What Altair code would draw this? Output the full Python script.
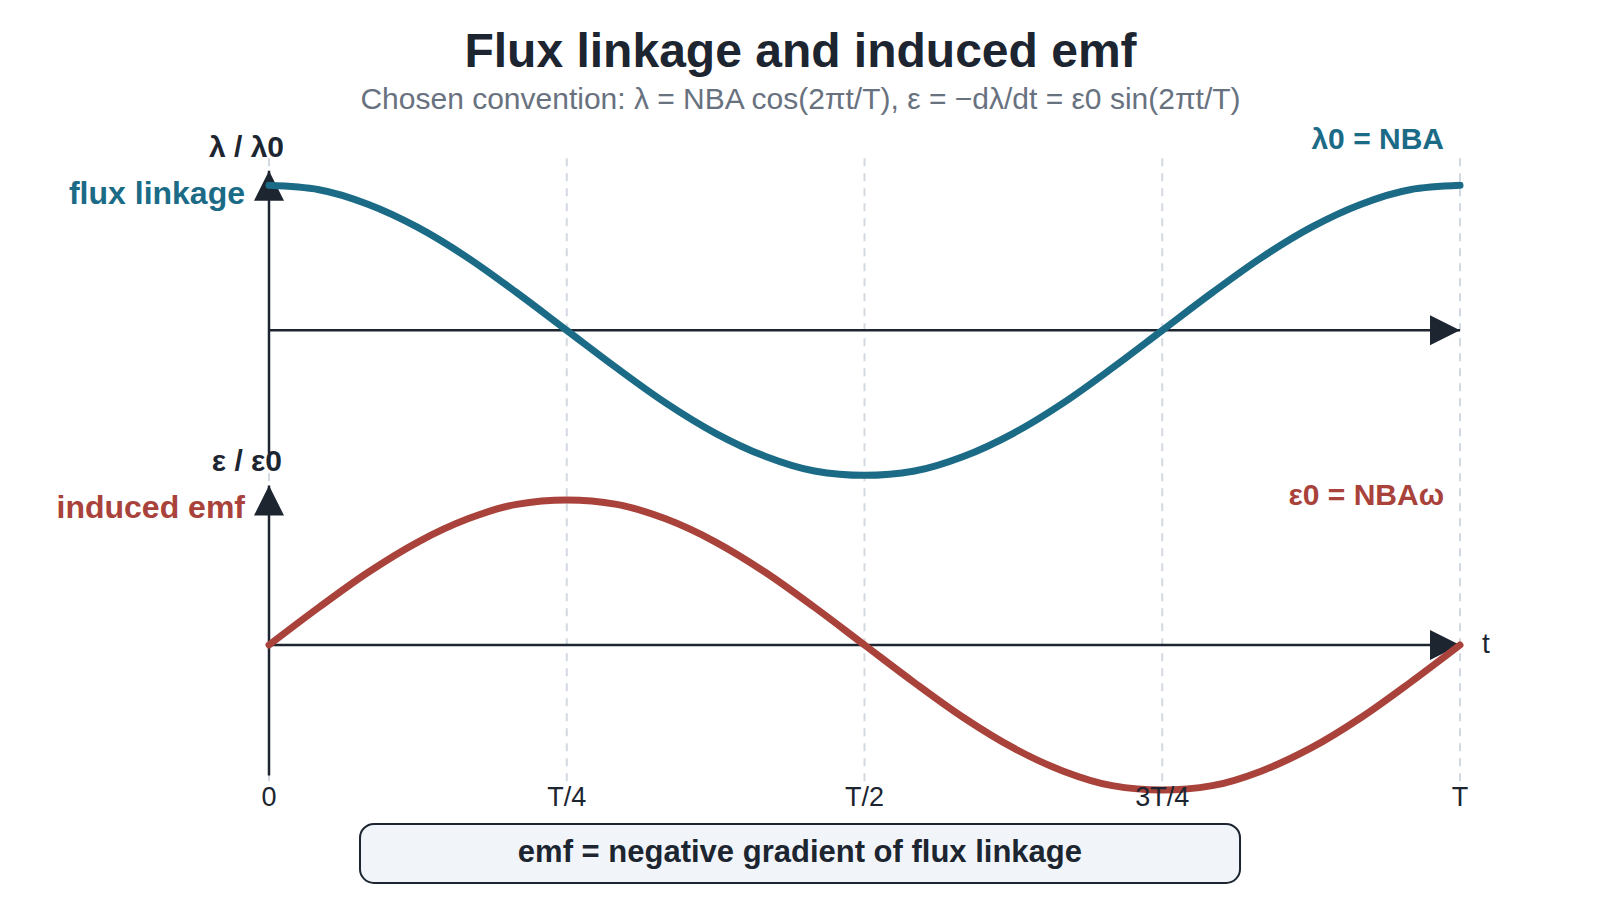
import altair as alt
import pandas as pd

# time as a fraction of the period T
t_frac = [0.000, 0.042, 0.083, 0.125, 0.167, 0.208, 0.250, 0.292, 0.333, 0.375,
          0.417, 0.458, 0.500, 0.542, 0.583, 0.625, 0.667, 0.708, 0.750, 0.792,
          0.833, 0.875, 0.917, 0.958, 1.000]
# lambda / lambda0
flux = [1.00, 0.97, 0.87, 0.71, 0.50, 0.26, 0.00, -0.26, -0.50, -0.71,
        -0.87, -0.97, -1.00, -0.97, -0.87, -0.71, -0.50, -0.26, 0.00, 0.26,
        0.50, 0.71, 0.87, 0.97, 1.00]
# epsilon / epsilon0
emf = [0.00, 0.26, 0.50, 0.71, 0.87, 0.97, 1.00, 0.97, 0.87, 0.71,
       0.50, 0.26, 0.00, -0.26, -0.50, -0.71, -0.87, -0.97, -1.00, -0.97,
       -0.87, -0.71, -0.50, -0.26, 0.00]

tick_pos = [0, 0.25, 0.5, 0.75, 1]
tick_text = ["0", "T/4", "T/2", "3T/4", "T"]

TEAL = "#1b6b87"
RED = "#a8423a"
DARK = "#1c2530"
FONT = "Liberation Sans"
SHIFT = 2.17  # vertical offset of the flux panel

xs = alt.Scale(domain=[0, 1], nice=False, zero=False)
ys = alt.Scale(domain=[-1.0, 3.4], nice=False, zero=False)


def X(field="t"):
    return alt.X(f"{field}:Q", scale=xs, axis=None)


def Y(field="y"):
    return alt.Y(f"{field}:Q", scale=ys, axis=None)


curves = pd.DataFrame({"t": t_frac, "flux": flux, "emf": emf})

# dashed guides at the quarter periods
grid = alt.Chart(pd.DataFrame({"t": tick_pos, "y": [-0.94] * 5, "y2": [3.36] * 5})).mark_rule(
    color="#d3d9e1", strokeWidth=2, strokeDash=[8, 7]
).encode(x=X(), y=Y(), y2="y2:Q")

# hand drawn axes
axes_df = pd.DataFrame({
    "t": [0, 0, 0, 0],
    "t2": [0, 1, 0, 1],
    "y": [SHIFT - 0.85, SHIFT, -0.9, 0],
    "y2": [SHIFT + 1.1, SHIFT, 1.1, 0],
})
axes = alt.Chart(axes_df).mark_rule(color=DARK, strokeWidth=2.5).encode(
    x=X(), x2="t2:Q", y=Y(), y2="y2:Q"
)

up = alt.Chart(pd.DataFrame({"t": [0, 0], "y": [SHIFT + 1.1, 1.1]})).mark_point(
    shape="M0,0L-1,2L1,2Z", size=900, filled=True, opacity=1, color=DARK
).encode(x=X(), y=Y())
right = alt.Chart(pd.DataFrame({"t": [1, 1], "y": [SHIFT, 0]})).mark_point(
    shape="M0,0L-2,-1L-2,1Z", size=900, filled=True, opacity=1, color=DARK
).encode(x=X(), y=Y())

flux_line = alt.Chart(curves).transform_calculate(
    y=f"datum.flux + {SHIFT}"
).mark_line(color=TEAL, strokeWidth=7, strokeCap="round", interpolate="monotone").encode(
    x=X(), y=Y()
)
emf_line = alt.Chart(curves).mark_line(
    color=RED, strokeWidth=7, strokeCap="round", interpolate="monotone"
).encode(x=X(), y=Y("emf"))

ticks = alt.Chart(pd.DataFrame({"t": tick_pos, "y": [-1.055] * 5, "label": tick_text})).mark_text(
    font=FONT, fontSize=27, color=DARK, baseline="middle"
).encode(x=X(), y=Y(), text="label:N")


def label(text, t, y, color, size, align, dx=0, weight="bold"):
    return alt.Chart(pd.DataFrame({"t": [t], "y": [y], "label": [text]})).mark_text(
        font=FONT, fontSize=size, fontWeight=weight, color=color, align=align,
        baseline="middle", dx=dx
    ).encode(x=X(), y=Y(), text="label:N")


labels = [
    label("λ / λ0", 0, SHIFT + 1.26, DARK, 30, "right", dx=15),
    label("flux linkage", 0, SHIFT + 0.94, TEAL, 32, "right", dx=-24),
    label("ε / ε0", 0, 1.262, DARK, 30, "right", dx=13),
    label("induced emf", 0, 0.945, RED, 32, "right", dx=-24),
    label("λ0 = NBA", 1, SHIFT + 1.315, TEAL, 30, "right", dx=-16),
    label("ε0 = NBAω", 1, 1.03, RED, 30, "right", dx=-16),
    label("t", 1, 0, DARK, 28, "left", dx=22, weight="normal"),
]

# note box under the axis
box = alt.Chart(pd.DataFrame({"t": [0.0764], "t2": [0.8153], "y": [-1.234], "y2": [-1.641]})).mark_rect(
    fill="#f1f5f9", stroke=DARK, strokeWidth=2, cornerRadius=14
).encode(x=X(), x2="t2:Q", y=Y(), y2="y2:Q")
box_text = label("emf = negative gradient of flux linkage", 0.4458, -1.434, DARK, 31, "center")

chart = alt.layer(
    grid, axes, up, right, flux_line, emf_line, ticks, *labels, box, box_text
).properties(
    width=1191,
    height=638,
    autosize="none",
    padding={"left": 261, "top": 144, "right": 132, "bottom": 102},
    title=alt.Title(
        "Flux linkage and induced emf",
        subtitle="Chosen convention: λ = NBA cos(2πt/T), ε = −dλ/dt = ε0 sin(2πt/T)",
        anchor="middle", dx=-64, fontSize=48, font=FONT, fontWeight="bold", color=DARK,
        subtitleFont=FONT, subtitleFontSize=30, subtitleColor="#68727f",
        subtitlePadding=8, offset=10,
    ),
).configure_view(stroke=None)

chart.save("out.html", embed_options={"renderer": "svg", "actions": False})
